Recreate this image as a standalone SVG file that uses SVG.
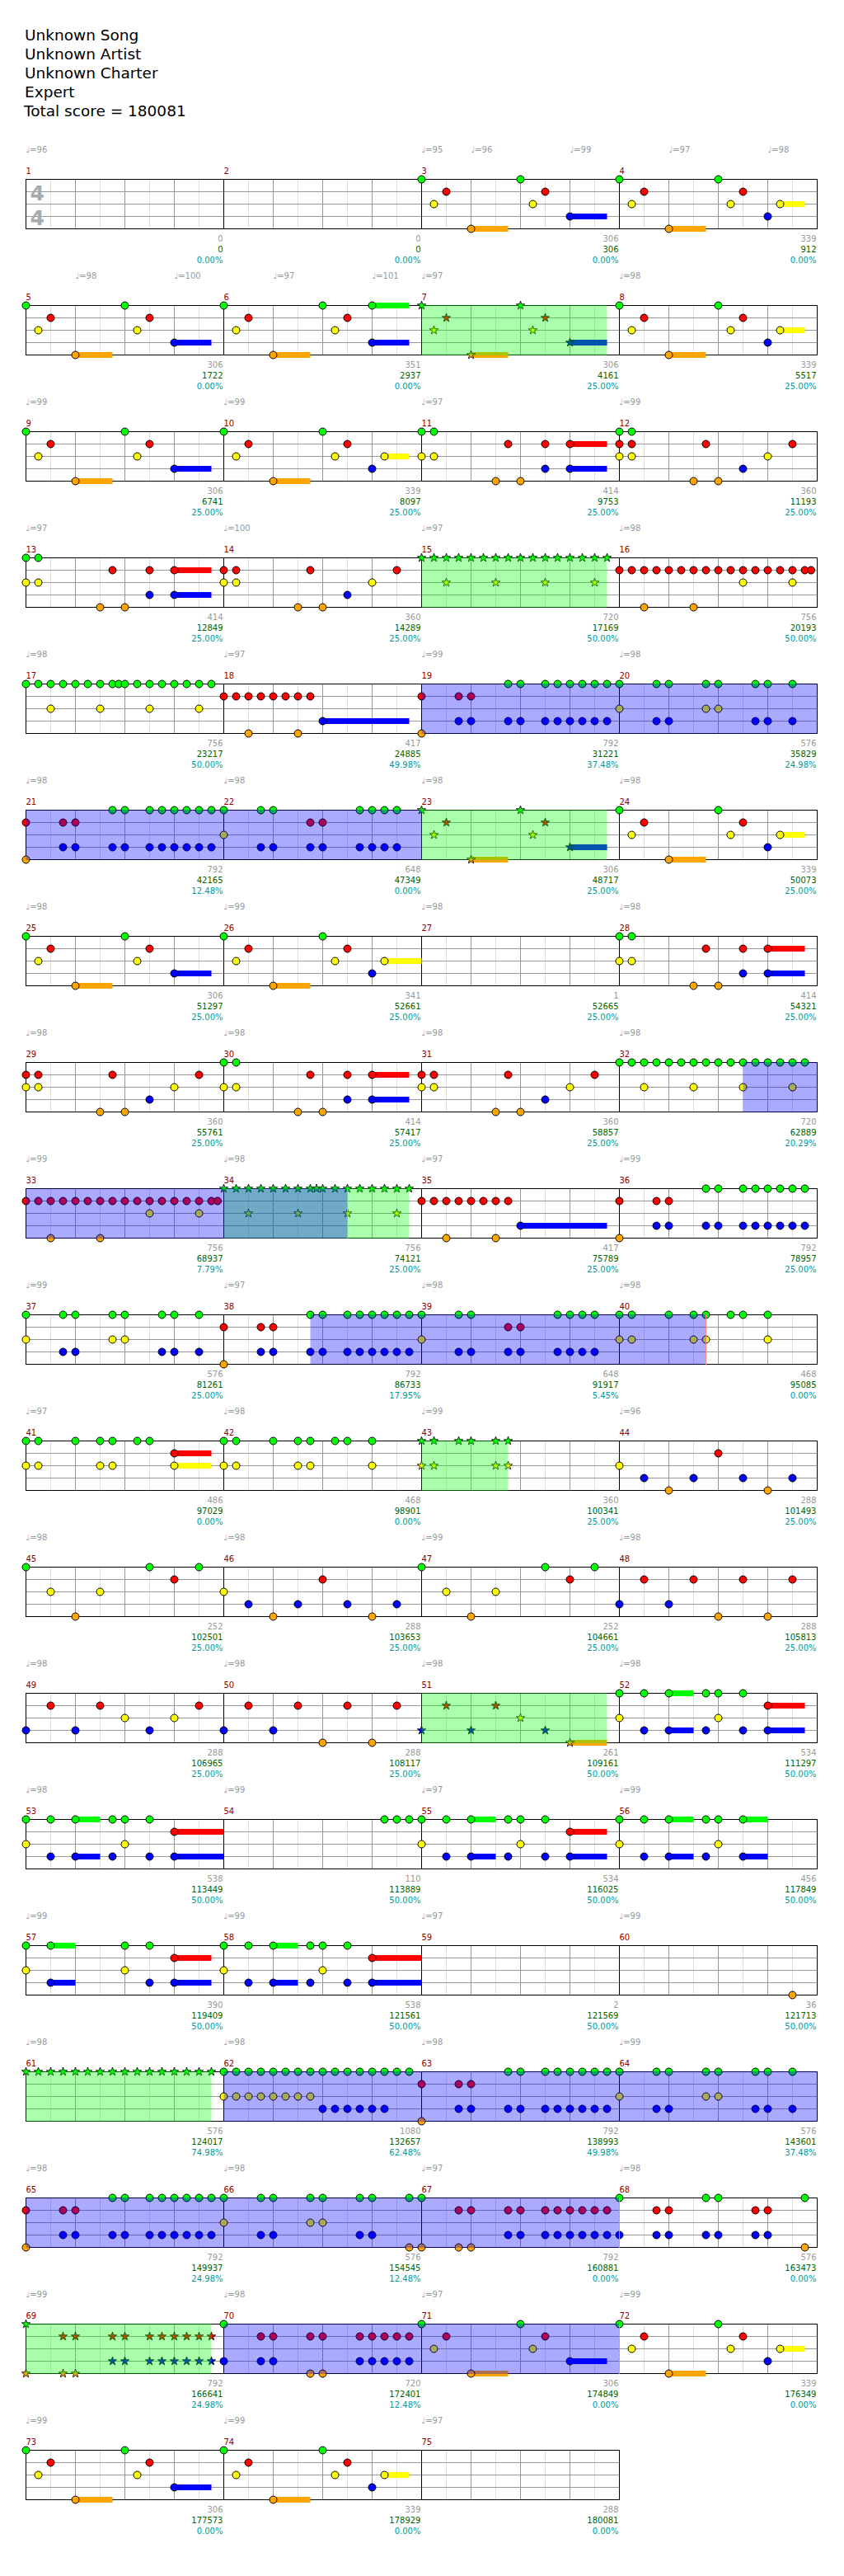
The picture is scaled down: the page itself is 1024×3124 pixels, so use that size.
<svg xmlns="http://www.w3.org/2000/svg" width="1024" height="3124" viewBox="0 0 1024 3124">
<style>
text{font-family:"DejaVu Sans","Noto Sans",sans-serif;font-size:10px}
.h{font-size:18.5px;fill:#000}
.t{fill:#999}
.n{fill:#8b0000}
.s1{fill:#999;text-anchor:end}
.s2{fill:#006400;text-anchor:end}
.s3{fill:#009999;text-anchor:end}
.ts{font-size:25px;font-weight:bold;fill:#aaa}
circle{r:4.5px;stroke:#000;stroke-width:1px}
.G{fill:#0f0}
.R{fill:#f00;transform:translate(0px,15px)}
.Y{fill:#ff0;transform:translate(0px,30px)}
.B{fill:#00f;transform:translate(0px,45px)}
.O{fill:#ffa500;transform:translate(0px,60px)}
.sp{fill:#0f0;fill-opacity:.333}
.ac{fill:#00f;fill-opacity:.333}
.q{stroke:#f88;fill:none}
</style>
<defs>
<path id="st" d="M0-5.5L1.29-1.78 5.23-1.7 2.09.68 3.23 4.45 0 2.2-3.23 4.45-2.09.68-5.23-1.7-1.29-1.78Z" stroke="#000" stroke-width=".8"/>
<g id="gm"><path d="M30 0v60M90 0v60M150 0v60M210 0v60" stroke="#ddd"/><path d="M60 0v60M120 0v60M180 0v60M0 15h240M0 30h240M0 45h240" stroke="#999"/></g>
<g id="g4"><use href="#gm" x="31"/><use href="#gm" x="271"/><use href="#gm" x="511"/><use href="#gm" x="751"/><path d="M271 0v60M511 0v60M751 0v60" stroke="#000"/><rect x="31" width="960" height="60" fill="none" stroke="#000"/></g>
<g id="g3"><use href="#gm" x="31"/><use href="#gm" x="271"/><use href="#gm" x="511"/><path d="M271 0v60M511 0v60" stroke="#000"/><rect x="31" width="720" height="60" fill="none" stroke="#000"/></g>
<g id="pA"><g class="G"><circle cx="0"/><circle cx="120"/></g><g class="R"><circle cx="30"/><circle cx="150"/></g><g class="Y"><circle cx="15"/><circle cx="135"/></g><g class="B"><rect x="180" y="-3.5" width="45" height="7"/><circle cx="180"/></g><g class="O"><rect x="60" y="-3.5" width="45" height="7"/><circle cx="60"/></g></g>
<g id="pAs"><g class="G"><use href="#st"/><use href="#st" x="120"/></g><g class="R"><use href="#st" x="30"/><use href="#st" x="150"/></g><g class="Y"><use href="#st" x="15"/><use href="#st" x="135"/></g><g class="B"><rect x="180" y="-3.5" width="45" height="7"/><use href="#st" x="180"/></g><g class="O"><rect x="60" y="-3.5" width="45" height="7"/><use href="#st" x="60"/></g></g>
<g id="pB"><g class="G"><circle cx="0"/><circle cx="120"/></g><g class="R"><circle cx="30"/><circle cx="150"/></g><g class="Y"><rect x="195" y="-3.5" width="30" height="7"/><circle cx="15"/><circle cx="135"/><circle cx="195"/></g><g class="B"><circle cx="180"/></g><g class="O"><rect x="60" y="-3.5" width="45" height="7"/><circle cx="60"/></g></g>
<g id="pC"><g class="G"><circle cx="0"/><circle cx="15"/></g><g class="R"><rect x="180" y="-3.5" width="45" height="7"/><circle cx="105"/><circle cx="150"/><circle cx="180"/></g><g class="Y"><circle cx="0"/><circle cx="15"/></g><g class="B"><rect x="180" y="-3.5" width="45" height="7"/><circle cx="150"/><circle cx="180"/></g><g class="O"><circle cx="90"/><circle cx="120"/></g></g>
<g id="pD"><g class="R"><circle cx="0"/><circle cx="15"/><circle cx="105"/><circle cx="210"/></g><g class="Y"><circle cx="0"/><circle cx="15"/><circle cx="180"/></g><g class="B"><circle cx="150"/></g><g class="O"><circle cx="90"/><circle cx="120"/></g></g>
<g id="p18"><g class="R"><circle cx="0"/><circle cx="15"/><circle cx="30"/><circle cx="45"/><circle cx="60"/><circle cx="75"/><circle cx="90"/><circle cx="105"/></g><g class="B"><rect x="120" y="-3.5" width="105" height="7"/><circle cx="120"/></g><g class="O"><circle cx="30"/><circle cx="90"/></g></g>
<g id="p19"><g class="G"><circle cx="105"/><circle cx="120"/><circle cx="150"/><circle cx="165"/><circle cx="180"/><circle cx="195"/><circle cx="210"/><circle cx="225"/></g><g class="R"><circle cx="0"/><circle cx="45"/><circle cx="60"/></g><g class="B"><circle cx="45"/><circle cx="60"/><circle cx="105"/><circle cx="120"/><circle cx="150"/><circle cx="165"/><circle cx="180"/><circle cx="195"/><circle cx="210"/><circle cx="225"/></g><g class="O"><circle cx="0"/></g></g>
<g id="p20"><g class="G"><circle cx="0"/><circle cx="45"/><circle cx="60"/><circle cx="105"/><circle cx="120"/><circle cx="165"/><circle cx="180"/><circle cx="210"/></g><g class="Y"><circle cx="0"/><circle cx="105"/><circle cx="120"/></g><g class="B"><circle cx="45"/><circle cx="60"/><circle cx="165"/><circle cx="180"/><circle cx="210"/></g></g>
<g id="p22"><g class="G"><circle cx="0"/><circle cx="45"/><circle cx="60"/><circle cx="165"/><circle cx="180"/><circle cx="195"/><circle cx="210"/></g><g class="R"><circle cx="105"/><circle cx="120"/></g><g class="Y"><circle cx="0"/></g><g class="B"><circle cx="45"/><circle cx="60"/><circle cx="105"/><circle cx="120"/><circle cx="165"/><circle cx="180"/><circle cx="195"/><circle cx="210"/></g></g>
<g id="p40"><g class="G"><circle cx="0"/><circle cx="15"/><circle cx="60"/><circle cx="90"/><circle cx="105"/><circle cx="135"/><circle cx="150"/><circle cx="180"/></g><g class="Y"><circle cx="0"/><circle cx="15"/><circle cx="90"/><circle cx="105"/><circle cx="180"/></g></g>
<g id="p44"><g class="R"><circle cx="120"/></g><g class="Y"><circle cx="0"/></g><g class="B"><circle cx="30"/><circle cx="90"/><circle cx="150"/><circle cx="210"/></g><g class="O"><circle cx="60"/><circle cx="180"/></g></g>
<g id="p45"><g class="G"><circle cx="0"/><circle cx="150"/><circle cx="210"/></g><g class="R"><circle cx="180"/></g><g class="Y"><circle cx="30"/><circle cx="90"/></g><g class="O"><circle cx="60"/></g></g>
<g id="p48"><g class="R"><circle cx="30"/><circle cx="90"/><circle cx="150"/><circle cx="210"/></g><g class="B"><circle cx="0"/><circle cx="60"/></g><g class="O"><circle cx="120"/><circle cx="180"/></g></g>
<g id="p52"><g class="G"><rect x="60" y="-3.5" width="30" height="7"/><circle cx="0"/><circle cx="30"/><circle cx="60"/><circle cx="105"/><circle cx="120"/><circle cx="150"/></g><g class="R"><rect x="180" y="-3.5" width="45" height="7"/><circle cx="180"/></g><g class="Y"><circle cx="0"/><circle cx="120"/></g><g class="B"><rect x="60" y="-3.5" width="30" height="7"/><rect x="180" y="-3.5" width="45" height="7"/><circle cx="30"/><circle cx="60"/><circle cx="105"/><circle cx="150"/><circle cx="180"/></g></g>
<g id="p53"><g class="G"><rect x="60" y="-3.5" width="30" height="7"/><circle cx="0"/><circle cx="30"/><circle cx="60"/><circle cx="105"/><circle cx="120"/><circle cx="150"/></g><g class="R"><rect x="180" y="-3.5" width="60" height="7"/><circle cx="180"/></g><g class="Y"><circle cx="0"/><circle cx="120"/></g><g class="B"><rect x="60" y="-3.5" width="30" height="7"/><rect x="180" y="-3.5" width="60" height="7"/><circle cx="30"/><circle cx="60"/><circle cx="105"/><circle cx="150"/><circle cx="180"/></g></g>
<g id="pR16"><g class="R"><circle cx="0"/><circle cx="15"/><circle cx="30"/><circle cx="45"/><circle cx="60"/><circle cx="75"/><circle cx="90"/><circle cx="105"/><circle cx="120"/><circle cx="135"/><circle cx="150"/><circle cx="165"/><circle cx="180"/><circle cx="195"/><circle cx="210"/><circle cx="225"/><circle cx="232.5"/></g><g class="Y"><circle cx="150"/><circle cx="210"/></g><g class="O"><circle cx="30"/><circle cx="90"/></g></g>
</defs>
<rect width="1024" height="3124" fill="#fff"/>
<g id="header">
<text class="h" x="30" y="49">Unknown Song</text>
<text class="h" x="30" y="72">Unknown Artist</text>
<text class="h" x="30" y="95">Unknown Charter</text>
<text class="h" x="30" y="118">Expert</text>
<text class="h" x="29" y="141">Total score = 180081</text>
</g>

<g id="row1" transform="translate(0.5,217.5)"><use href="#g4"/>
<g id="m1" transform="translate(31)"><text class="t" y="-33">♩=96</text><text class="n" y="-7">1</text><text class="ts" x="5" y="25.5">4</text><text class="ts" x="5" y="55.5">4</text><text class="s1" x="239" y="75">0</text><text class="s2" x="239" y="88">0</text><text class="s3" x="239" y="101">0.00%</text></g>
<g id="m2" transform="translate(271)"><text class="n" y="-7">2</text><text class="s1" x="239" y="75">0</text><text class="s2" x="239" y="88">0</text><text class="s3" x="239" y="101">0.00%</text></g>
<g id="m3" transform="translate(511)"><text class="t" y="-33">♩=95</text><text class="t" x="60" y="-33">♩=96</text><text class="t" x="180" y="-33">♩=99</text><text class="n" y="-7">3</text><use href="#pA"/><text class="s1" x="239" y="75">306</text><text class="s2" x="239" y="88">306</text><text class="s3" x="239" y="101">0.00%</text></g>
<g id="m4" transform="translate(751)"><text class="t" x="60" y="-33">♩=97</text><text class="t" x="180" y="-33">♩=98</text><text class="n" y="-7">4</text><use href="#pB"/><text class="s1" x="239" y="75">339</text><text class="s2" x="239" y="88">912</text><text class="s3" x="239" y="101">0.00%</text></g>
</g>

<g id="row2" transform="translate(0.5,370.5)"><use href="#g4"/>
<g id="m5" transform="translate(31)"><text class="t" x="60" y="-33">♩=98</text><text class="t" x="180" y="-33">♩=100</text><text class="n" y="-7">5</text><use href="#pA"/><text class="s1" x="239" y="75">306</text><text class="s2" x="239" y="88">1722</text><text class="s3" x="239" y="101">0.00%</text></g>
<g id="m6" transform="translate(271)"><text class="t" x="60" y="-33">♩=97</text><text class="t" x="180" y="-33">♩=101</text><text class="n" y="-7">6</text><g class="G"><rect x="180" y="-3.5" width="45" height="7"/><circle cx="0"/><circle cx="120"/><circle cx="180"/></g><g class="R"><circle cx="30"/><circle cx="150"/></g><g class="Y"><circle cx="15"/><circle cx="135"/></g><g class="B"><rect x="180" y="-3.5" width="45" height="7"/><circle cx="180"/></g><g class="O"><rect x="60" y="-3.5" width="45" height="7"/><circle cx="60"/></g><text class="s1" x="239" y="75">351</text><text class="s2" x="239" y="88">2937</text><text class="s3" x="239" y="101">0.00%</text></g>
<g id="m7" transform="translate(511)"><text class="t" y="-33">♩=97</text><text class="n" y="-7">7</text><use href="#pAs"/><text class="s1" x="239" y="75">306</text><text class="s2" x="239" y="88">4161</text><text class="s3" x="239" y="101">25.00%</text></g>
<g id="m8" transform="translate(751)"><text class="t" y="-33">♩=98</text><text class="n" y="-7">8</text><use href="#pB"/><text class="s1" x="239" y="75">339</text><text class="s2" x="239" y="88">5517</text><text class="s3" x="239" y="101">25.00%</text></g>
<rect class="sp" x="511" y="-0.5" width="225" height="61"/>
</g>

<g id="row3" transform="translate(0.5,523.5)"><use href="#g4"/>
<g id="m9" transform="translate(31)"><text class="t" y="-33">♩=99</text><text class="n" y="-7">9</text><use href="#pA"/><text class="s1" x="239" y="75">306</text><text class="s2" x="239" y="88">6741</text><text class="s3" x="239" y="101">25.00%</text></g>
<g id="m10" transform="translate(271)"><text class="t" y="-33">♩=99</text><text class="n" y="-7">10</text><use href="#pB"/><text class="s1" x="239" y="75">339</text><text class="s2" x="239" y="88">8097</text><text class="s3" x="239" y="101">25.00%</text></g>
<g id="m11" transform="translate(511)"><text class="t" y="-33">♩=97</text><text class="n" y="-7">11</text><use href="#pC"/><text class="s1" x="239" y="75">414</text><text class="s2" x="239" y="88">9753</text><text class="s3" x="239" y="101">25.00%</text></g>
<g id="m12" transform="translate(751)"><text class="t" y="-33">♩=99</text><text class="n" y="-7">12</text><g class="G"><circle cx="0"/><circle cx="15"/></g><use href="#pD"/><text class="s1" x="239" y="75">360</text><text class="s2" x="239" y="88">11193</text><text class="s3" x="239" y="101">25.00%</text></g>
</g>

<g id="row4" transform="translate(0.5,676.5)"><use href="#g4"/>
<g id="m13" transform="translate(31)"><text class="t" y="-33">♩=97</text><text class="n" y="-7">13</text><use href="#pC"/><text class="s1" x="239" y="75">414</text><text class="s2" x="239" y="88">12849</text><text class="s3" x="239" y="101">25.00%</text></g>
<g id="m14" transform="translate(271)"><text class="t" y="-33">♩=100</text><text class="n" y="-7">14</text><use href="#pD"/><text class="s1" x="239" y="75">360</text><text class="s2" x="239" y="88">14289</text><text class="s3" x="239" y="101">25.00%</text></g>
<g id="m15" transform="translate(511)"><text class="t" y="-33">♩=97</text><text class="n" y="-7">15</text><g class="G"><use href="#st"/><use href="#st" x="15"/><use href="#st" x="30"/><use href="#st" x="45"/><use href="#st" x="60"/><use href="#st" x="75"/><use href="#st" x="90"/><use href="#st" x="105"/><use href="#st" x="120"/><use href="#st" x="135"/><use href="#st" x="150"/><use href="#st" x="165"/><use href="#st" x="180"/><use href="#st" x="195"/><use href="#st" x="210"/><use href="#st" x="225"/></g><g class="Y"><use href="#st" x="30"/><use href="#st" x="90"/><use href="#st" x="150"/><use href="#st" x="210"/></g><text class="s1" x="239" y="75">720</text><text class="s2" x="239" y="88">17169</text><text class="s3" x="239" y="101">50.00%</text></g>
<g id="m16" transform="translate(751)"><text class="t" y="-33">♩=98</text><text class="n" y="-7">16</text><use href="#pR16"/><text class="s1" x="239" y="75">756</text><text class="s2" x="239" y="88">20193</text><text class="s3" x="239" y="101">50.00%</text></g>
<rect class="sp" x="511" y="-0.5" width="225" height="61"/>
</g>

<g id="row5" transform="translate(0.5,829.5)"><use href="#g4"/>
<g id="m17" transform="translate(31)"><text class="t" y="-33">♩=98</text><text class="n" y="-7">17</text><g class="G"><circle cx="0"/><circle cx="15"/><circle cx="30"/><circle cx="45"/><circle cx="60"/><circle cx="75"/><circle cx="90"/><circle cx="105"/><circle cx="112.5"/><circle cx="120"/><circle cx="135"/><circle cx="150"/><circle cx="165"/><circle cx="180"/><circle cx="195"/><circle cx="210"/><circle cx="225"/></g><g class="Y"><circle cx="30"/><circle cx="90"/><circle cx="150"/><circle cx="210"/></g><text class="s1" x="239" y="75">756</text><text class="s2" x="239" y="88">23217</text><text class="s3" x="239" y="101">50.00%</text></g>
<g id="m18" transform="translate(271)"><text class="t" y="-33">♩=97</text><text class="n" y="-7">18</text><use href="#p18"/><text class="s1" x="239" y="75">417</text><text class="s2" x="239" y="88">24885</text><text class="s3" x="239" y="101">49.98%</text></g>
<g id="m19" transform="translate(511)"><text class="t" y="-33">♩=99</text><text class="n" y="-7">19</text><use href="#p19"/><text class="s1" x="239" y="75">792</text><text class="s2" x="239" y="88">31221</text><text class="s3" x="239" y="101">37.48%</text></g>
<g id="m20" transform="translate(751)"><text class="t" y="-33">♩=98</text><text class="n" y="-7">20</text><use href="#p20"/><text class="s1" x="239" y="75">576</text><text class="s2" x="239" y="88">35829</text><text class="s3" x="239" y="101">24.98%</text></g>
<rect class="ac" x="511" y="-0.5" width="480" height="61"/>
</g>

<g id="row6" transform="translate(0.5,982.5)"><use href="#g4"/>
<g id="m21" transform="translate(31)"><text class="t" y="-33">♩=98</text><text class="n" y="-7">21</text><use href="#p19"/><text class="s1" x="239" y="75">792</text><text class="s2" x="239" y="88">42165</text><text class="s3" x="239" y="101">12.48%</text></g>
<g id="m22" transform="translate(271)"><text class="t" y="-33">♩=98</text><text class="n" y="-7">22</text><use href="#p22"/><text class="s1" x="239" y="75">648</text><text class="s2" x="239" y="88">47349</text><text class="s3" x="239" y="101">0.00%</text></g>
<g id="m23" transform="translate(511)"><text class="t" y="-33">♩=98</text><text class="n" y="-7">23</text><use href="#pAs"/><text class="s1" x="239" y="75">306</text><text class="s2" x="239" y="88">48717</text><text class="s3" x="239" y="101">25.00%</text></g>
<g id="m24" transform="translate(751)"><text class="t" y="-33">♩=98</text><text class="n" y="-7">24</text><use href="#pB"/><text class="s1" x="239" y="75">339</text><text class="s2" x="239" y="88">50073</text><text class="s3" x="239" y="101">25.00%</text></g>
<rect class="ac" x="31" y="-0.5" width="480" height="61"/><rect class="sp" x="511" y="-0.5" width="225" height="61"/>
</g>

<g id="row7" transform="translate(0.5,1135.5)"><use href="#g4"/>
<g id="m25" transform="translate(31)"><text class="t" y="-33">♩=98</text><text class="n" y="-7">25</text><use href="#pA"/><text class="s1" x="239" y="75">306</text><text class="s2" x="239" y="88">51297</text><text class="s3" x="239" y="101">25.00%</text></g>
<g id="m26" transform="translate(271)"><text class="t" y="-33">♩=99</text><text class="n" y="-7">26</text><g class="G"><circle cx="0"/><circle cx="120"/></g><g class="R"><circle cx="30"/><circle cx="150"/></g><g class="Y"><rect x="195" y="-3.5" width="45" height="7"/><circle cx="15"/><circle cx="135"/><circle cx="195"/></g><g class="B"><circle cx="180"/></g><g class="O"><rect x="60" y="-3.5" width="45" height="7"/><circle cx="60"/></g><text class="s1" x="239" y="75">341</text><text class="s2" x="239" y="88">52661</text><text class="s3" x="239" y="101">25.00%</text></g>
<g id="m27" transform="translate(511)"><text class="t" y="-33">♩=98</text><text class="n" y="-7">27</text><text class="s1" x="239" y="75">1</text><text class="s2" x="239" y="88">52665</text><text class="s3" x="239" y="101">25.00%</text></g>
<g id="m28" transform="translate(751)"><text class="t" y="-33">♩=98</text><text class="n" y="-7">28</text><use href="#pC"/><text class="s1" x="239" y="75">414</text><text class="s2" x="239" y="88">54321</text><text class="s3" x="239" y="101">25.00%</text></g>
</g>

<g id="row8" transform="translate(0.5,1288.5)"><use href="#g4"/>
<g id="m29" transform="translate(31)"><text class="t" y="-33">♩=98</text><text class="n" y="-7">29</text><use href="#pD"/><text class="s1" x="239" y="75">360</text><text class="s2" x="239" y="88">55761</text><text class="s3" x="239" y="101">25.00%</text></g>
<g id="m30" transform="translate(271)"><text class="t" y="-33">♩=98</text><text class="n" y="-7">30</text><use href="#pC"/><text class="s1" x="239" y="75">414</text><text class="s2" x="239" y="88">57417</text><text class="s3" x="239" y="101">25.00%</text></g>
<g id="m31" transform="translate(511)"><text class="t" y="-33">♩=98</text><text class="n" y="-7">31</text><use href="#pD"/><text class="s1" x="239" y="75">360</text><text class="s2" x="239" y="88">58857</text><text class="s3" x="239" y="101">25.00%</text></g>
<g id="m32" transform="translate(751)"><text class="t" y="-33">♩=98</text><text class="n" y="-7">32</text><g class="G"><circle cx="0"/><circle cx="15"/><circle cx="30"/><circle cx="45"/><circle cx="60"/><circle cx="75"/><circle cx="90"/><circle cx="105"/><circle cx="120"/><circle cx="135"/><circle cx="150"/><circle cx="165"/><circle cx="180"/><circle cx="195"/><circle cx="210"/><circle cx="225"/></g><g class="Y"><circle cx="30"/><circle cx="90"/><circle cx="150"/><circle cx="210"/></g><text class="s1" x="239" y="75">720</text><text class="s2" x="239" y="88">62889</text><text class="s3" x="239" y="101">20.29%</text></g>
<rect class="ac" x="901" y="-0.5" width="90" height="61"/>
</g>

<g id="row9" transform="translate(0.5,1441.5)"><use href="#g4"/>
<g id="m33" transform="translate(31)"><text class="t" y="-33">♩=99</text><text class="n" y="-7">33</text><use href="#pR16"/><text class="s1" x="239" y="75">756</text><text class="s2" x="239" y="88">68937</text><text class="s3" x="239" y="101">7.79%</text></g>
<g id="m34" transform="translate(271)"><text class="t" y="-33">♩=98</text><text class="n" y="-7">34</text><g class="G"><use href="#st"/><use href="#st" x="15"/><use href="#st" x="30"/><use href="#st" x="45"/><use href="#st" x="60"/><use href="#st" x="75"/><use href="#st" x="90"/><use href="#st" x="105"/><use href="#st" x="112.5"/><use href="#st" x="120"/><use href="#st" x="135"/><use href="#st" x="150"/><use href="#st" x="165"/><use href="#st" x="180"/><use href="#st" x="195"/><use href="#st" x="210"/><use href="#st" x="225"/></g><g class="Y"><use href="#st" x="30"/><use href="#st" x="90"/><use href="#st" x="150"/><use href="#st" x="210"/></g><text class="s1" x="239" y="75">756</text><text class="s2" x="239" y="88">74121</text><text class="s3" x="239" y="101">25.00%</text></g>
<g id="m35" transform="translate(511)"><text class="t" y="-33">♩=97</text><text class="n" y="-7">35</text><use href="#p18"/><text class="s1" x="239" y="75">417</text><text class="s2" x="239" y="88">75789</text><text class="s3" x="239" y="101">25.00%</text></g>
<g id="m36" transform="translate(751)"><text class="t" y="-33">♩=99</text><text class="n" y="-7">36</text><use href="#p19"/><text class="s1" x="239" y="75">792</text><text class="s2" x="239" y="88">78957</text><text class="s3" x="239" y="101">25.00%</text></g>
<rect class="sp" x="271" y="-0.5" width="225" height="61"/><rect class="ac" x="31" y="-0.5" width="390" height="61"/><path class="q" d="M421-0.5v61"/>
</g>

<g id="row10" transform="translate(0.5,1594.5)"><use href="#g4"/>
<g id="m37" transform="translate(31)"><text class="t" y="-33">♩=99</text><text class="n" y="-7">37</text><use href="#p20"/><text class="s1" x="239" y="75">576</text><text class="s2" x="239" y="88">81261</text><text class="s3" x="239" y="101">25.00%</text></g>
<g id="m38" transform="translate(271)"><text class="t" y="-33">♩=97</text><text class="n" y="-7">38</text><use href="#p19"/><text class="s1" x="239" y="75">792</text><text class="s2" x="239" y="88">86733</text><text class="s3" x="239" y="101">17.95%</text></g>
<g id="m39" transform="translate(511)"><text class="t" y="-33">♩=98</text><text class="n" y="-7">39</text><use href="#p22"/><text class="s1" x="239" y="75">648</text><text class="s2" x="239" y="88">91917</text><text class="s3" x="239" y="101">5.45%</text></g>
<g id="m40" transform="translate(751)"><text class="t" y="-33">♩=98</text><text class="n" y="-7">40</text><use href="#p40"/><text class="s1" x="239" y="75">468</text><text class="s2" x="239" y="88">95085</text><text class="s3" x="239" y="101">0.00%</text></g>
<rect class="ac" x="376" y="-0.5" width="480" height="61"/><path class="q" d="M856-0.5v61"/>
</g>

<g id="row11" transform="translate(0.5,1747.5)"><use href="#g4"/>
<g id="m41" transform="translate(31)"><text class="t" y="-33">♩=97</text><text class="n" y="-7">41</text><g class="G"><circle cx="0"/><circle cx="15"/><circle cx="60"/><circle cx="90"/><circle cx="105"/><circle cx="135"/><circle cx="150"/></g><g class="R"><rect x="180" y="-3.5" width="45" height="7"/><circle cx="180"/></g><g class="Y"><rect x="180" y="-3.5" width="45" height="7"/><circle cx="0"/><circle cx="15"/><circle cx="90"/><circle cx="105"/><circle cx="180"/></g><text class="s1" x="239" y="75">486</text><text class="s2" x="239" y="88">97029</text><text class="s3" x="239" y="101">0.00%</text></g>
<g id="m42" transform="translate(271)"><text class="t" y="-33">♩=98</text><text class="n" y="-7">42</text><use href="#p40"/><text class="s1" x="239" y="75">468</text><text class="s2" x="239" y="88">98901</text><text class="s3" x="239" y="101">0.00%</text></g>
<g id="m43" transform="translate(511)"><text class="t" y="-33">♩=99</text><text class="n" y="-7">43</text><g class="G"><use href="#st"/><use href="#st" x="15"/><use href="#st" x="45"/><use href="#st" x="60"/><use href="#st" x="90"/><use href="#st" x="105"/></g><g class="Y"><use href="#st"/><use href="#st" x="15"/><use href="#st" x="90"/><use href="#st" x="105"/></g><text class="s1" x="239" y="75">360</text><text class="s2" x="239" y="88">100341</text><text class="s3" x="239" y="101">25.00%</text></g>
<g id="m44" transform="translate(751)"><text class="t" y="-33">♩=96</text><text class="n" y="-7">44</text><use href="#p44"/><text class="s1" x="239" y="75">288</text><text class="s2" x="239" y="88">101493</text><text class="s3" x="239" y="101">25.00%</text></g>
<rect class="sp" x="511" y="-0.5" width="105" height="61"/>
</g>

<g id="row12" transform="translate(0.5,1900.5)"><use href="#g4"/>
<g id="m45" transform="translate(31)"><text class="t" y="-33">♩=98</text><text class="n" y="-7">45</text><use href="#p45"/><text class="s1" x="239" y="75">252</text><text class="s2" x="239" y="88">102501</text><text class="s3" x="239" y="101">25.00%</text></g>
<g id="m46" transform="translate(271)"><text class="t" y="-33">♩=98</text><text class="n" y="-7">46</text><use href="#p44"/><text class="s1" x="239" y="75">288</text><text class="s2" x="239" y="88">103653</text><text class="s3" x="239" y="101">25.00%</text></g>
<g id="m47" transform="translate(511)"><text class="t" y="-33">♩=99</text><text class="n" y="-7">47</text><use href="#p45"/><text class="s1" x="239" y="75">252</text><text class="s2" x="239" y="88">104661</text><text class="s3" x="239" y="101">25.00%</text></g>
<g id="m48" transform="translate(751)"><text class="t" y="-33">♩=98</text><text class="n" y="-7">48</text><use href="#p48"/><text class="s1" x="239" y="75">288</text><text class="s2" x="239" y="88">105813</text><text class="s3" x="239" y="101">25.00%</text></g>
</g>

<g id="row13" transform="translate(0.5,2053.5)"><use href="#g4"/>
<g id="m49" transform="translate(31)"><text class="t" y="-33">♩=98</text><text class="n" y="-7">49</text><g class="R"><circle cx="30"/><circle cx="90"/><circle cx="210"/></g><g class="Y"><circle cx="120"/><circle cx="180"/></g><g class="B"><circle cx="0"/><circle cx="60"/><circle cx="150"/></g><text class="s1" x="239" y="75">288</text><text class="s2" x="239" y="88">106965</text><text class="s3" x="239" y="101">25.00%</text></g>
<g id="m50" transform="translate(271)"><text class="t" y="-33">♩=98</text><text class="n" y="-7">50</text><use href="#p48"/><text class="s1" x="239" y="75">288</text><text class="s2" x="239" y="88">108117</text><text class="s3" x="239" y="101">25.00%</text></g>
<g id="m51" transform="translate(511)"><text class="t" y="-33">♩=98</text><text class="n" y="-7">51</text><g class="R"><use href="#st" x="30"/><use href="#st" x="90"/></g><g class="Y"><use href="#st" x="120"/></g><g class="B"><use href="#st"/><use href="#st" x="60"/><use href="#st" x="150"/></g><g class="O"><rect x="180" y="-3.5" width="45" height="7"/><use href="#st" x="180"/></g><text class="s1" x="239" y="75">261</text><text class="s2" x="239" y="88">109161</text><text class="s3" x="239" y="101">50.00%</text></g>
<g id="m52" transform="translate(751)"><text class="t" y="-33">♩=98</text><text class="n" y="-7">52</text><use href="#p52"/><text class="s1" x="239" y="75">534</text><text class="s2" x="239" y="88">111297</text><text class="s3" x="239" y="101">50.00%</text></g>
<rect class="sp" x="511" y="-0.5" width="225" height="61"/>
</g>

<g id="row14" transform="translate(0.5,2206.5)"><use href="#g4"/>
<g id="m53" transform="translate(31)"><text class="t" y="-33">♩=98</text><text class="n" y="-7">53</text><use href="#p53"/><text class="s1" x="239" y="75">538</text><text class="s2" x="239" y="88">113449</text><text class="s3" x="239" y="101">50.00%</text></g>
<g id="m54" transform="translate(271)"><text class="t" y="-33">♩=99</text><text class="n" y="-7">54</text><g class="G"><circle cx="195"/><circle cx="210"/><circle cx="225"/></g><text class="s1" x="239" y="75">110</text><text class="s2" x="239" y="88">113889</text><text class="s3" x="239" y="101">50.00%</text></g>
<g id="m55" transform="translate(511)"><text class="t" y="-33">♩=97</text><text class="n" y="-7">55</text><use href="#p52"/><text class="s1" x="239" y="75">534</text><text class="s2" x="239" y="88">116025</text><text class="s3" x="239" y="101">50.00%</text></g>
<g id="m56" transform="translate(751)"><text class="t" y="-33">♩=99</text><text class="n" y="-7">56</text><g class="G"><rect x="60" y="-3.5" width="30" height="7"/><rect x="150" y="-3.5" width="30" height="7"/><circle cx="0"/><circle cx="30"/><circle cx="60"/><circle cx="105"/><circle cx="120"/><circle cx="150"/></g><g class="Y"><circle cx="0"/><circle cx="120"/></g><g class="B"><rect x="60" y="-3.5" width="30" height="7"/><rect x="150" y="-3.5" width="30" height="7"/><circle cx="30"/><circle cx="60"/><circle cx="105"/><circle cx="150"/></g><text class="s1" x="239" y="75">456</text><text class="s2" x="239" y="88">117849</text><text class="s3" x="239" y="101">50.00%</text></g>
</g>

<g id="row15" transform="translate(0.5,2359.5)"><use href="#g4"/>
<g id="m57" transform="translate(31)"><text class="t" y="-33">♩=99</text><text class="n" y="-7">57</text><g class="G"><rect x="30" y="-3.5" width="30" height="7"/><circle cx="0"/><circle cx="30"/><circle cx="120"/><circle cx="150"/></g><g class="R"><rect x="180" y="-3.5" width="45" height="7"/><circle cx="180"/></g><g class="Y"><circle cx="0"/><circle cx="120"/></g><g class="B"><rect x="30" y="-3.5" width="30" height="7"/><rect x="180" y="-3.5" width="45" height="7"/><circle cx="30"/><circle cx="150"/><circle cx="180"/></g><text class="s1" x="239" y="75">390</text><text class="s2" x="239" y="88">119409</text><text class="s3" x="239" y="101">50.00%</text></g>
<g id="m58" transform="translate(271)"><text class="t" y="-33">♩=99</text><text class="n" y="-7">58</text><use href="#p53"/><text class="s1" x="239" y="75">538</text><text class="s2" x="239" y="88">121561</text><text class="s3" x="239" y="101">50.00%</text></g>
<g id="m59" transform="translate(511)"><text class="t" y="-33">♩=97</text><text class="n" y="-7">59</text><text class="s1" x="239" y="75">2</text><text class="s2" x="239" y="88">121569</text><text class="s3" x="239" y="101">50.00%</text></g>
<g id="m60" transform="translate(751)"><text class="t" y="-33">♩=99</text><text class="n" y="-7">60</text><g class="O"><circle cx="210"/></g><text class="s1" x="239" y="75">36</text><text class="s2" x="239" y="88">121713</text><text class="s3" x="239" y="101">50.00%</text></g>
</g>

<g id="row16" transform="translate(0.5,2512.5)"><use href="#g4"/>
<g id="m61" transform="translate(31)"><text class="t" y="-33">♩=98</text><text class="n" y="-7">61</text><g class="G"><use href="#st"/><use href="#st" x="15"/><use href="#st" x="30"/><use href="#st" x="45"/><use href="#st" x="60"/><use href="#st" x="75"/><use href="#st" x="90"/><use href="#st" x="105"/><use href="#st" x="120"/><use href="#st" x="135"/><use href="#st" x="150"/><use href="#st" x="165"/><use href="#st" x="180"/><use href="#st" x="195"/><use href="#st" x="210"/><use href="#st" x="225"/></g><text class="s1" x="239" y="75">576</text><text class="s2" x="239" y="88">124017</text><text class="s3" x="239" y="101">74.98%</text></g>
<g id="m62" transform="translate(271)"><text class="t" y="-33">♩=98</text><text class="n" y="-7">62</text><g class="G"><circle cx="0"/><circle cx="15"/><circle cx="30"/><circle cx="45"/><circle cx="60"/><circle cx="75"/><circle cx="90"/><circle cx="105"/><circle cx="120"/><circle cx="135"/><circle cx="150"/><circle cx="165"/><circle cx="180"/><circle cx="195"/><circle cx="210"/><circle cx="225"/></g><g class="Y"><circle cx="0"/><circle cx="15"/><circle cx="30"/><circle cx="45"/><circle cx="60"/><circle cx="75"/><circle cx="90"/><circle cx="105"/></g><g class="B"><circle cx="120"/><circle cx="135"/><circle cx="150"/><circle cx="165"/><circle cx="180"/><circle cx="195"/></g><text class="s1" x="239" y="75">1080</text><text class="s2" x="239" y="88">132657</text><text class="s3" x="239" y="101">62.48%</text></g>
<g id="m63" transform="translate(511)"><text class="t" y="-33">♩=98</text><text class="n" y="-7">63</text><use href="#p19"/><text class="s1" x="239" y="75">792</text><text class="s2" x="239" y="88">138993</text><text class="s3" x="239" y="101">49.98%</text></g>
<g id="m64" transform="translate(751)"><text class="t" y="-33">♩=99</text><text class="n" y="-7">64</text><use href="#p20"/><text class="s1" x="239" y="75">576</text><text class="s2" x="239" y="88">143601</text><text class="s3" x="239" y="101">37.48%</text></g>
<rect class="sp" x="31" y="-0.5" width="225" height="61"/><rect class="ac" x="271" y="-0.5" width="720" height="61"/>
</g>

<g id="row17" transform="translate(0.5,2665.5)"><use href="#g4"/>
<g id="m65" transform="translate(31)"><text class="t" y="-33">♩=98</text><text class="n" y="-7">65</text><use href="#p19"/><text class="s1" x="239" y="75">792</text><text class="s2" x="239" y="88">149937</text><text class="s3" x="239" y="101">24.98%</text></g>
<g id="m66" transform="translate(271)"><text class="t" y="-33">♩=98</text><text class="n" y="-7">66</text><g class="G"><circle cx="0"/><circle cx="45"/><circle cx="60"/><circle cx="105"/><circle cx="120"/><circle cx="165"/><circle cx="180"/><circle cx="225"/></g><g class="Y"><circle cx="0"/><circle cx="105"/><circle cx="120"/></g><g class="B"><circle cx="45"/><circle cx="60"/><circle cx="165"/><circle cx="180"/></g><g class="O"><circle cx="225"/></g><text class="s1" x="239" y="75">576</text><text class="s2" x="239" y="88">154545</text><text class="s3" x="239" y="101">12.48%</text></g>
<g id="m67" transform="translate(511)"><text class="t" y="-33">♩=97</text><text class="n" y="-7">67</text><g class="G"><circle cx="0"/></g><g class="R"><circle cx="45"/><circle cx="60"/><circle cx="105"/><circle cx="120"/><circle cx="150"/><circle cx="165"/><circle cx="180"/><circle cx="195"/><circle cx="210"/><circle cx="225"/></g><g class="B"><circle cx="105"/><circle cx="120"/><circle cx="150"/><circle cx="165"/><circle cx="180"/><circle cx="195"/><circle cx="210"/><circle cx="225"/></g><g class="O"><circle cx="0"/><circle cx="45"/><circle cx="60"/></g><text class="s1" x="239" y="75">792</text><text class="s2" x="239" y="88">160881</text><text class="s3" x="239" y="101">0.00%</text></g>
<g id="m68" transform="translate(751)"><text class="t" y="-33">♩=98</text><text class="n" y="-7">68</text><g class="G"><circle cx="0"/><circle cx="105"/><circle cx="120"/><circle cx="225"/></g><g class="R"><circle cx="45"/><circle cx="60"/><circle cx="165"/><circle cx="180"/></g><g class="B"><circle cx="0"/><circle cx="45"/><circle cx="60"/><circle cx="105"/><circle cx="120"/><circle cx="165"/><circle cx="180"/></g><g class="O"><circle cx="225"/></g><text class="s1" x="239" y="75">576</text><text class="s2" x="239" y="88">163473</text><text class="s3" x="239" y="101">0.00%</text></g>
<rect class="ac" x="31" y="-0.5" width="720" height="61"/><path class="q" d="M751-0.5v61"/>
</g>

<g id="row18" transform="translate(0.5,2818.5)"><use href="#g4"/>
<g id="m69" transform="translate(31)"><text class="t" y="-33">♩=99</text><text class="n" y="-7">69</text><g class="G"><use href="#st"/></g><g class="R"><use href="#st" x="45"/><use href="#st" x="60"/><use href="#st" x="105"/><use href="#st" x="120"/><use href="#st" x="150"/><use href="#st" x="165"/><use href="#st" x="180"/><use href="#st" x="195"/><use href="#st" x="210"/><use href="#st" x="225"/></g><g class="B"><use href="#st" x="105"/><use href="#st" x="120"/><use href="#st" x="150"/><use href="#st" x="165"/><use href="#st" x="180"/><use href="#st" x="195"/><use href="#st" x="210"/><use href="#st" x="225"/></g><g class="O"><use href="#st"/><use href="#st" x="45"/><use href="#st" x="60"/></g><text class="s1" x="239" y="75">792</text><text class="s2" x="239" y="88">166641</text><text class="s3" x="239" y="101">24.98%</text></g>
<g id="m70" transform="translate(271)"><text class="t" y="-33">♩=98</text><text class="n" y="-7">70</text><g class="G"><circle cx="0"/></g><g class="R"><circle cx="45"/><circle cx="60"/><circle cx="105"/><circle cx="120"/><circle cx="165"/><circle cx="180"/><circle cx="195"/><circle cx="210"/><circle cx="225"/></g><g class="B"><circle cx="0"/><circle cx="45"/><circle cx="60"/><circle cx="165"/><circle cx="180"/><circle cx="195"/><circle cx="210"/><circle cx="225"/></g><g class="O"><circle cx="105"/><circle cx="120"/></g><text class="s1" x="239" y="75">720</text><text class="s2" x="239" y="88">172401</text><text class="s3" x="239" y="101">12.48%</text></g>
<g id="m71" transform="translate(511)"><text class="t" y="-33">♩=97</text><text class="n" y="-7">71</text><use href="#pA"/><text class="s1" x="239" y="75">306</text><text class="s2" x="239" y="88">174849</text><text class="s3" x="239" y="101">0.00%</text></g>
<g id="m72" transform="translate(751)"><text class="t" y="-33">♩=99</text><text class="n" y="-7">72</text><use href="#pB"/><text class="s1" x="239" y="75">339</text><text class="s2" x="239" y="88">176349</text><text class="s3" x="239" y="101">0.00%</text></g>
<rect class="sp" x="31" y="-0.5" width="225" height="61"/><rect class="ac" x="271" y="-0.5" width="480" height="61"/><path class="q" d="M751-0.5v61"/>
</g>

<g id="row19" transform="translate(0.5,2971.5)"><use href="#g3"/>
<g id="m73" transform="translate(31)"><text class="t" y="-33">♩=99</text><text class="n" y="-7">73</text><use href="#pA"/><text class="s1" x="239" y="75">306</text><text class="s2" x="239" y="88">177573</text><text class="s3" x="239" y="101">0.00%</text></g>
<g id="m74" transform="translate(271)"><text class="t" y="-33">♩=99</text><text class="n" y="-7">74</text><use href="#pB"/><text class="s1" x="239" y="75">339</text><text class="s2" x="239" y="88">178929</text><text class="s3" x="239" y="101">0.00%</text></g>
<g id="m75" transform="translate(511)"><text class="t" y="-33">♩=97</text><text class="n" y="-7">75</text><text class="s1" x="239" y="75">288</text><text class="s2" x="239" y="88">180081</text><text class="s3" x="239" y="101">0.00%</text></g>
</g>
</svg>
